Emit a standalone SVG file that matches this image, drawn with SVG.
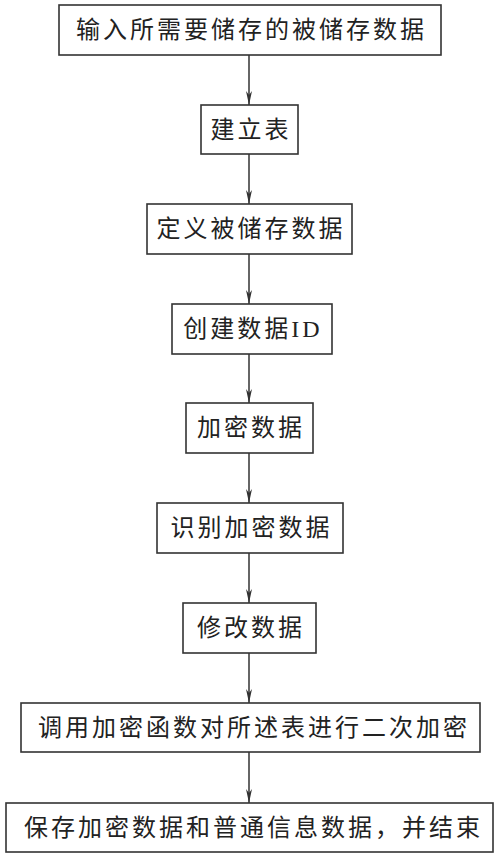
<svg xmlns="http://www.w3.org/2000/svg" width="500" height="858" viewBox="0 0 500 858">
<style>
.box{fill:#fff;stroke:#333;stroke-width:1.6}
.t{font-family:"Liberation Serif","Noto Sans CJK SC",serif;font-size:24px;fill:#222;letter-spacing:3px;text-anchor:middle;dominant-baseline:central}
.c{stroke:#333;stroke-width:1.5;fill:none}
</style>
<defs>
<marker id="ah" viewBox="0 0 14 6" refX="14" refY="3" markerWidth="14" markerHeight="6" markerUnits="userSpaceOnUse" orient="auto">
<path d="M0,0 L14,3 L0,6 L4,3 Z" fill="#333"/>
</marker>
</defs>
<rect width="500" height="858" fill="#fff"/>
<g id="connectors">
<line class="c" x1="249" y1="55" x2="249" y2="105" marker-end="url(#ah)"/>
<line class="c" x1="249" y1="154" x2="249" y2="204" marker-end="url(#ah)"/>
<line class="c" x1="249" y1="254" x2="249" y2="304" marker-end="url(#ah)"/>
<line class="c" x1="249" y1="354" x2="249" y2="403" marker-end="url(#ah)"/>
<line class="c" x1="249" y1="453" x2="249" y2="503" marker-end="url(#ah)"/>
<line class="c" x1="249" y1="553" x2="249" y2="603" marker-end="url(#ah)"/>
<line class="c" x1="249" y1="653" x2="249" y2="703" marker-end="url(#ah)"/>
<line class="c" x1="249" y1="752" x2="249" y2="803" marker-end="url(#ah)"/>
</g>
<g id="n1"><rect class="box" x="59" y="5" width="382" height="50"/><text class="t" x="251.5" y="30">输入所需要储存的被储存数据</text></g>
<g id="n2"><rect class="box" x="201" y="105" width="97" height="49"/><text class="t" x="251" y="129.5">建立表</text></g>
<g id="n3"><rect class="box" x="147" y="204" width="205" height="50"/><text class="t" x="251" y="229">定义被储存数据</text></g>
<g id="n4"><rect class="box" x="172" y="304" width="160" height="50"/><text class="t" x="253" y="329">创建数据ID</text></g>
<g id="n5"><rect class="box" x="186" y="403" width="127" height="50"/><text class="t" x="251" y="428">加密数据</text></g>
<g id="n6"><rect class="box" x="157" y="503" width="186" height="50"/><text class="t" x="251.5" y="528">识别加密数据</text></g>
<g id="n7"><rect class="box" x="183" y="603" width="133" height="50"/><text class="t" x="251" y="628">修改数据</text></g>
<g id="n8"><rect class="box" x="21" y="703" width="459" height="49"/><text class="t" x="254" y="727.5">调用加密函数对所述表进行二次加密</text></g>
<g id="n9"><rect class="box" x="6" y="803" width="487" height="49"/><text class="t" x="253.5" y="827.5">保存加密数据和普通信息数据，并结束</text></g>
</svg>
